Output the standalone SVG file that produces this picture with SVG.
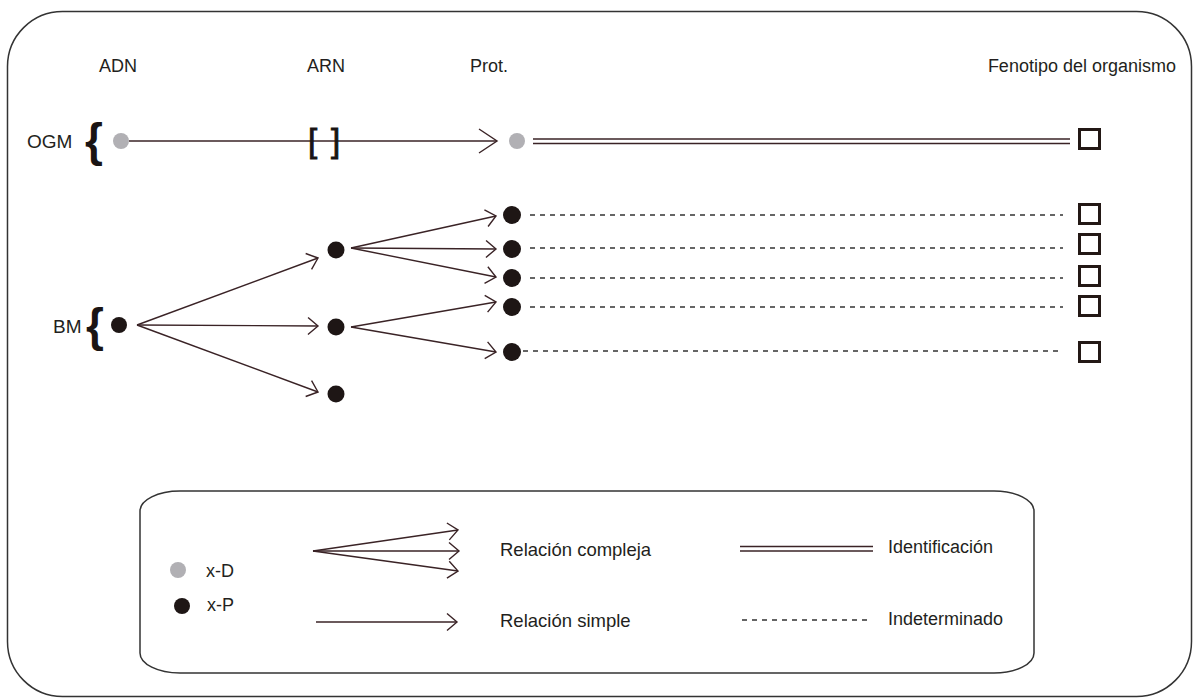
<svg xmlns="http://www.w3.org/2000/svg" width="1194" height="698" viewBox="0 0 1194 698">
<defs>
<style>
.t{font-family:"Liberation Sans",Arial,sans-serif;font-size:18px;fill:#231f20}
.br{font-family:"Liberation Sans",Arial,sans-serif;font-size:46px;font-weight:bold;fill:#1a1414}
.bk{font-family:"Liberation Sans",Arial,sans-serif;font-size:33px;fill:#1a1414;stroke:#1a1414;stroke-width:0.9}
.ln{stroke:#3a2326;stroke-width:1.4;fill:none}
.dl{stroke:#3a2326;stroke-width:1.3;fill:none}
.ds{stroke:#333;stroke-width:1.3;stroke-dasharray:5 5;fill:none}
.g{fill:#b1b0b4}
.k{fill:#1e1615}
.sq{fill:none;stroke:#231815;stroke-width:3}
.frame{fill:none;stroke:#333;stroke-width:1.5}
</style>
<marker id="ah" markerUnits="userSpaceOnUse" markerWidth="30" markerHeight="30" viewBox="-15 -15 30 30" refX="0" refY="0" orient="auto">
<path d="M-10,-8.5 L0,0 L-10,8.5" fill="none" stroke="#3a2326" stroke-width="1.4"/>
</marker>
<marker id="ahL" markerUnits="userSpaceOnUse" markerWidth="44" markerHeight="44" viewBox="-22 -22 44 44" refX="0" refY="0" orient="auto">
<path d="M-18,-12 L0,0 L-18,12" fill="none" stroke="#3a2326" stroke-width="1.4"/>
</marker>
</defs>
<rect class="frame" x="7.5" y="11.5" width="1184" height="685" rx="55" ry="55"/>

<g id="headers">
<text class="t" x="99" y="72">ADN</text>
<text class="t" x="307" y="72">ARN</text>
<text class="t" x="470" y="72">Prot.</text>
<text class="t" x="1176" y="72" text-anchor="end">Fenotipo del organismo</text>
</g>

<g id="connectors">
<line class="ln" x1="129" y1="141" x2="497" y2="141" marker-end="url(#ahL)"/>
<line class="dl" x1="533" y1="139" x2="1070" y2="139"/>
<line class="dl" x1="533" y1="143.5" x2="1070" y2="143.5"/>
<line class="ln" x1="137" y1="325" x2="318" y2="258" marker-end="url(#ah)"/>
<line class="ln" x1="137" y1="325" x2="318" y2="326" marker-end="url(#ah)"/>
<line class="ln" x1="137" y1="325" x2="318" y2="392" marker-end="url(#ah)"/>
<line class="ln" x1="351" y1="248" x2="496" y2="216" marker-end="url(#ah)"/>
<line class="ln" x1="351" y1="248" x2="496" y2="249" marker-end="url(#ah)"/>
<line class="ln" x1="351" y1="248" x2="496" y2="277" marker-end="url(#ah)"/>
<line class="ln" x1="351" y1="327" x2="496" y2="302" marker-end="url(#ah)"/>
<line class="ln" x1="351" y1="327" x2="496" y2="352" marker-end="url(#ah)"/>
<line class="ds" x1="530" y1="215" x2="1063" y2="215"/>
<line class="ds" x1="530" y1="248" x2="1063" y2="248"/>
<line class="ds" x1="530" y1="278" x2="1063" y2="278"/>
<line class="ds" x1="530" y1="307" x2="1063" y2="307"/>
<line class="ds" x1="523" y1="351" x2="1058" y2="351"/>
</g>

<g id="ogm">
<text class="t" x="27" y="148" style="font-size:19px">OGM</text>
<text class="br" x="85" y="156">{</text>
<circle class="g" cx="121" cy="141" r="8"/>
<text class="bk" x="308" y="152">[</text>
<text class="bk" x="331" y="152">]</text>
<circle class="g" cx="517" cy="141" r="8"/>
<rect class="sq" x="1079.5" y="129.5" width="20" height="19"/>
</g>

<g id="bm">
<text class="t" x="53" y="333" style="font-size:19px">BM</text>
<text class="br" x="86" y="341">{</text>
<circle class="k" cx="119" cy="325" r="8"/>
</g>

<g id="arn">
<circle class="k" cx="336" cy="250" r="8.5"/>
<circle class="k" cx="336" cy="327" r="8.5"/>
<circle class="k" cx="336" cy="394" r="8.5"/>
</g>

<g id="prot">
<circle class="k" cx="512" cy="215" r="9"/>
<circle class="k" cx="512" cy="249" r="9"/>
<circle class="k" cx="512" cy="278" r="9"/>
<circle class="k" cx="512" cy="307" r="9"/>
<circle class="k" cx="512" cy="352" r="9"/>
</g>

<g id="fenotipo">
<rect class="sq" x="1079.5" y="204.5" width="20" height="19"/>
<rect class="sq" x="1079.5" y="234.5" width="20" height="19"/>
<rect class="sq" x="1079.5" y="266.5" width="20" height="19"/>
<rect class="sq" x="1079.5" y="296.5" width="20" height="19"/>
<rect class="sq" x="1079.5" y="342.5" width="20" height="19"/>
</g>

<g id="legend">
<rect class="frame" x="140" y="491" width="894" height="182" rx="40" ry="20"/>
<circle class="g" cx="178" cy="570" r="8"/>
<text class="t" x="206" y="577">x-D</text>
<circle class="k" cx="182" cy="606" r="8"/>
<text class="t" x="207" y="611">x-P</text>
<line class="ln" x1="313" y1="551" x2="458" y2="530" marker-end="url(#ah)"/>
<line class="ln" x1="313" y1="551" x2="459" y2="551" marker-end="url(#ah)"/>
<line class="ln" x1="313" y1="551" x2="458" y2="571" marker-end="url(#ah)"/>
<line class="ln" x1="316" y1="622" x2="457" y2="622" marker-end="url(#ah)"/>
<text class="t" x="500" y="556" style="font-size:18.5px">Relación compleja</text>
<text class="t" x="500" y="627" style="font-size:18.5px">Relación simple</text>
<line class="dl" x1="740" y1="546.5" x2="873" y2="546.5"/>
<line class="dl" x1="740" y1="551" x2="873" y2="551"/>
<line class="ds" x1="742" y1="620" x2="868" y2="620"/>
<text class="t" x="888" y="553">Identificación</text>
<text class="t" x="888" y="625">Indeterminado</text>
</g>
</svg>
